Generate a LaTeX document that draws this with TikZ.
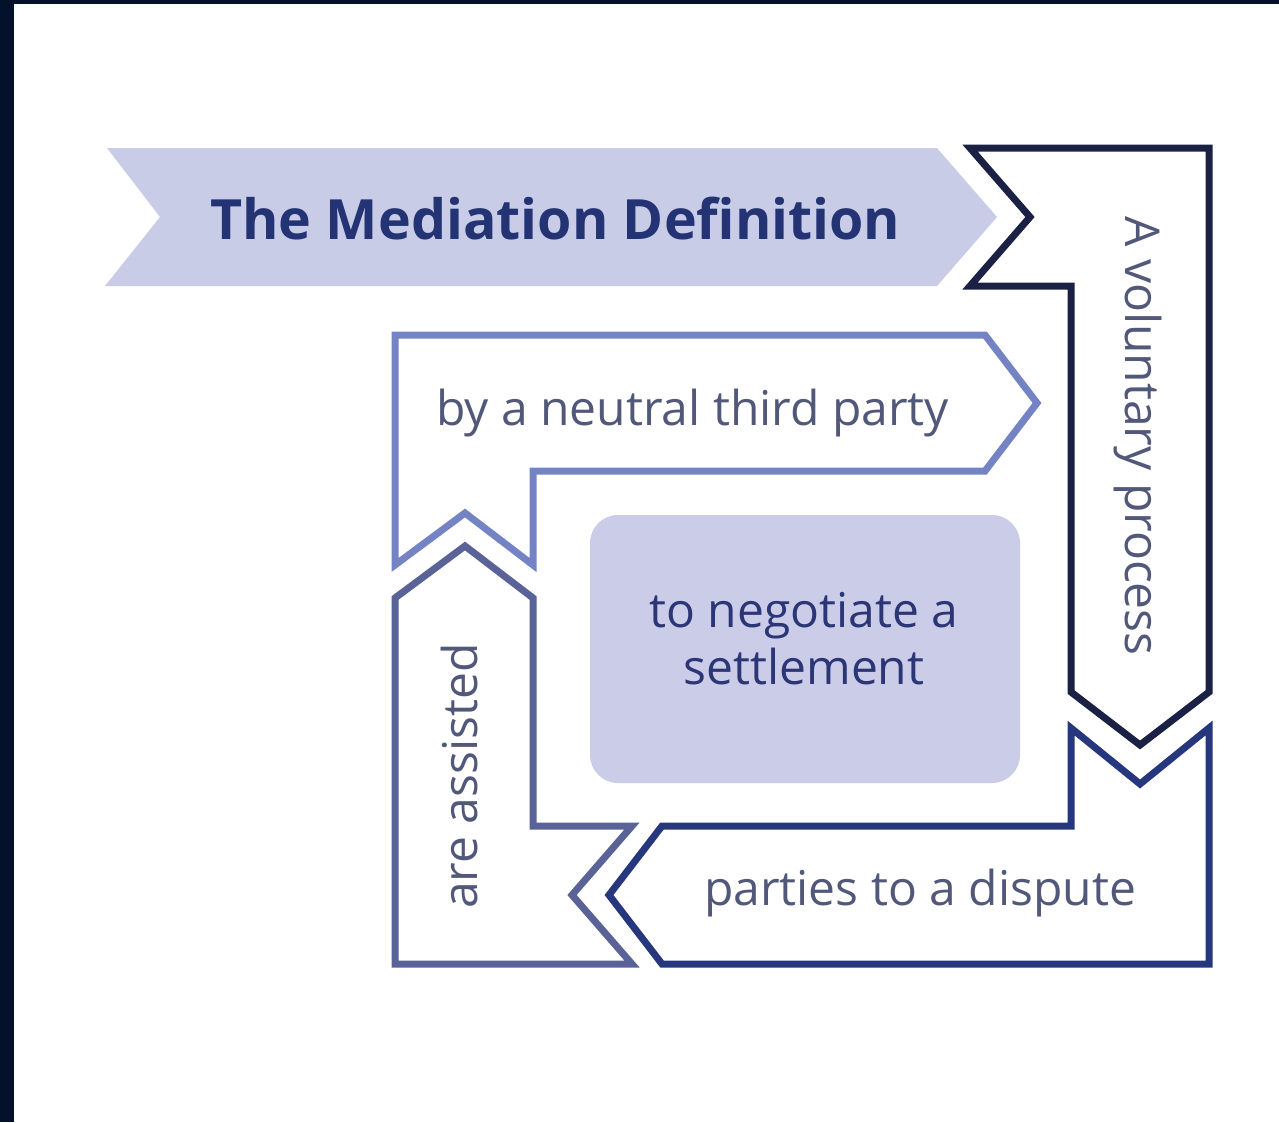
\documentclass[tikz,border=0pt]{standalone}
\usepackage{fontspec}
\setmainfont{Open Sans}
\definecolor{framedark}{HTML}{03112A}
\definecolor{titlefill}{HTML}{C9CCE7}
\definecolor{titletext}{HTML}{243373}
\definecolor{darkarrow}{HTML}{1B2045}
\definecolor{periwinkle}{HTML}{7483C3}
\definecolor{slate}{HTML}{5A6397}
\definecolor{royal}{HTML}{26377D}
\definecolor{labeltext}{HTML}{52587A}
\definecolor{boxfill}{HTML}{CBCDE8}
\definecolor{boxtext}{HTML}{2C3676}
\begin{document}
\begin{tikzpicture}[x=1pt,y=-1pt,
  outlinearrow/.style={line width=7pt, line join=miter, fill=white},
  arrowlabel/.style={inner sep=0pt, text=labeltext, font=\fontsize{48}{57}\selectfont},
]
\useasboundingbox (0,0) rectangle (1279,1122);
\fill[framedark] (0,0) rectangle (1279,1122);
\fill[white] (14,4) rectangle (1279,1122);

% title banner
\fill[titlefill] (107,148) -- (937,148) -- (997,217) -- (937,286) -- (105,286) -- (160,217) -- cycle;
\node[inner sep=0pt, anchor=base west, text=titletext, font=\fontsize{55.5}{66}\selectfont\bfseries] (title) at (210,239) {The Mediation Definition};

% A voluntary process
\draw[outlinearrow, draw=darkarrow] (970,148) -- (1209,148) -- (1209,692) -- (1140,745) -- (1071,692) -- (1071,286) -- (970,286) -- (1030,217) -- cycle;
\node[arrowlabel, rotate=-90, anchor=base west] (voluntary) at (1125,216) {A voluntary process};

% by a neutral third party
\draw[outlinearrow, draw=periwinkle] (395,335) -- (985,335) -- (1037,403) -- (985,471) -- (533,471) -- (533,565) -- (465,513) -- (395,565) -- cycle;
\node[arrowlabel, anchor=base west] (neutral) at (436,425) {by a neutral third party};

% are assisted
\draw[outlinearrow, draw=slate] (465,546) -- (533,598) -- (533,826) -- (632,826) -- (572,895) -- (632,964) -- (395,964) -- (395,598) -- cycle;
\node[arrowlabel, rotate=90, anchor=base west] (assisted) at (477,909) {are assisted};

% parties to a dispute
\draw[outlinearrow, draw=royal] (609,895) -- (662,826) -- (1071,826) -- (1071,728) -- (1140,784) -- (1209,728) -- (1209,964) -- (662,964) -- cycle;
\node[arrowlabel, anchor=base west] (parties) at (704,905) {parties to a dispute};

% center box
\fill[boxfill, rounded corners=28pt] (590,515) rectangle (1020,783);
\node[inner sep=0pt, align=center, text=boxtext, font=\fontsize{48}{57}\selectfont] (settle) at (804,639) {to negotiate a\\settlement};
\end{tikzpicture}
\end{document}
